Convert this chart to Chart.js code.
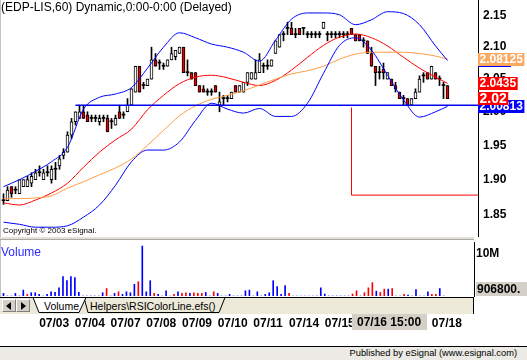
<!DOCTYPE html>
<html><head><meta charset="utf-8">
<script src="https://cdn.jsdelivr.net/npm/chart.js@4.4.1/dist/chart.umd.min.js"></script>
<style>
html,body{margin:0;padding:0;background:#fff;width:527px;height:360px;overflow:hidden;font-family:Arial,"Liberation Sans",sans-serif;}
#wrap{position:relative;width:527px;height:360px;}
canvas{position:absolute;}
.abs{position:absolute;white-space:nowrap;}
</style></head><body><div id="wrap">
<canvas id="priceCanvas" width="527" height="237" style="left:0;top:0;width:527px;height:237px"></canvas>
<canvas id="volCanvas" width="527" height="100" style="left:0;top:240px;width:527px;height:100px"></canvas>

<div class="abs" style="left:1px;top:0;font-size:12px;line-height:14px;color:#000">(EDP-LIS,60) Dynamic,0:00-0:00 (Delayed)</div>
<div class="abs" style="left:3px;top:226px;font-size:8px;line-height:10px;color:#000">Copyright &copy; 2003 eSignal.</div>
<div class="abs" style="left:0;top:0;width:1px;height:297px;background:#c4c4c4"></div>
<div class="abs" style="left:0;top:237px;width:474px;height:3px;background:#e4e0d4;border-bottom:1px solid #a8a8a8;box-sizing:border-box"></div>
<div class="abs" style="left:1px;top:245px;font-size:12px;line-height:14px;color:#2b2bff">Volume</div>

<div class="abs" style="left:0;top:297px;width:474px;height:17px;background:#ece9d8;border-top:1px solid #000;border-right:1px solid #000;box-sizing:border-box"></div>
<div class="abs" style="left:2px;top:299px;width:14px;height:13px;background:#d4d0c8;border:1px solid;border-color:#fff #808080 #808080 #fff;box-sizing:border-box">
  <div style="position:absolute;left:3px;top:2px;width:0;height:0;border-top:4px solid transparent;border-bottom:4px solid transparent;border-right:5px solid #000"></div></div>
<div class="abs" style="left:16px;top:299px;width:14px;height:13px;background:#d4d0c8;border:1px solid;border-color:#fff #808080 #808080 #fff;box-sizing:border-box">
  <div style="position:absolute;left:4px;top:2px;width:0;height:0;border-top:4px solid transparent;border-bottom:4px solid transparent;border-left:5px solid #000"></div></div>
<svg class="abs" style="left:0;top:297px" width="474" height="17">
  <polygon points="84,0.5 88,15.5 219,15.5 225,0.5" fill="#ece9d8" stroke="#000" stroke-width="1"/>
  <polygon points="33,0.5 39,15.5 79,15.5 86,0.5" fill="#fff" stroke="#000" stroke-width="1"/>
  <line x1="0" y1="0.5" x2="474" y2="0.5" stroke="#000" stroke-width="1"/>
</svg>
<div class="abs" style="left:44px;top:299px;font-size:10.5px;line-height:14px;color:#000">Volume</div>
<div class="abs" style="left:90px;top:299px;font-size:10.5px;line-height:14px;color:#000">Helpers\RSIColorLine.efs()</div>

<div class="abs" style="left:0;top:346px;width:527px;height:14px;background:#ebeae4;border-top:1px solid #000;box-sizing:border-box"></div>
<div class="abs" style="right:10px;top:347px;font-size:9.3px;line-height:13px;color:#000">Published by eSignal (www.esignal.com)</div>
</div>
<script>
// ---------- data ----------
const dayLabels = ['07/03','07/04','07/07','07/08','07/09','07/10','07/11','07/14','07/15','07/16','07/17','07/18'];
const dayStartIdx = [9,18,27,36,45,54,63,72,81,90,99,108];
const priceTicks = [1.85,1.90,1.95,2.00,2.05,2.10,2.15];

const opens = [1.87,1.87,1.89,1.885,1.88,1.89,1.89,1.895,1.90,1.91,
 1.90,1.91,1.90,1.915,1.92,1.935,1.94,1.965,1.985,1.99,
 2.00,1.995,1.99,1.99,1.985,1.99,1.99,1.985,1.98,2.00,
 1.995,2.00,2.01,2.03,2.07,2.04,2.04,2.05,2.08,2.075,
 2.07,2.07,2.08,2.085,2.09,2.10,2.06,2.06,2.06,2.04,
 2.035,2.03,2.03,2.04,2.01,2.02,2.02,2.02,2.04,2.03,
 2.03,2.045,2.05,2.05,2.06,2.07,2.07,2.07,2.09,2.10,
 2.12,2.13,2.13,2.12,2.13,2.13,2.12,2.12,2.12,2.12,
 2.13,2.12,2.12,2.12,2.12,2.12,2.12,2.13,2.12,2.12,
 2.11,2.11,2.09,2.07,2.06,2.065,2.05,2.05,2.04,2.03,
 2.02,2.02,2.01,2.02,2.03,2.055,2.06,2.05,2.06,2.05,
 2.04,2.04];
const highs = [1.88,1.89,1.89,1.89,1.90,1.90,1.905,1.91,1.915,1.92,
 1.915,1.92,1.92,1.925,1.935,1.945,1.97,1.99,2.00,2.01,
 2.01,2.00,1.995,1.995,1.995,1.995,1.995,1.99,1.995,2.01,
 2.00,2.02,2.035,2.07,2.07,2.045,2.05,2.10,2.09,2.08,
 2.075,2.08,2.10,2.095,2.10,2.10,2.08,2.06,2.06,2.04,
 2.04,2.035,2.035,2.04,2.03,2.025,2.025,2.03,2.04,2.04,
 2.045,2.06,2.06,2.08,2.09,2.075,2.08,2.08,2.11,2.12,
 2.125,2.14,2.14,2.13,2.13,2.13,2.125,2.125,2.125,2.125,
 2.14,2.125,2.125,2.125,2.125,2.125,2.125,2.13,2.12,2.12,
 2.115,2.11,2.10,2.07,2.07,2.075,2.06,2.05,2.045,2.03,
 2.025,2.02,2.02,2.035,2.055,2.06,2.06,2.07,2.06,2.055,
 2.045,2.04];
const lows = [1.865,1.87,1.875,1.88,1.88,1.89,1.89,1.89,1.90,1.905,
 1.90,1.905,1.895,1.90,1.915,1.93,1.94,1.96,1.98,1.99,
 1.99,1.985,1.985,1.985,1.98,1.985,1.97,1.975,1.98,1.99,
 1.99,2.00,2.01,2.03,2.03,2.035,2.04,2.05,2.07,2.065,
 2.065,2.07,2.08,2.08,2.09,2.06,2.055,2.05,2.04,2.03,
 2.03,2.025,2.025,2.03,2.00,2.01,2.015,2.02,2.03,2.03,
 2.03,2.04,2.05,2.05,2.06,2.06,2.065,2.07,2.09,2.10,
 2.11,2.12,2.12,2.115,2.12,2.12,2.115,2.115,2.115,2.115,
 2.13,2.11,2.115,2.115,2.115,2.115,2.115,2.12,2.11,2.11,
 2.10,2.09,2.07,2.04,2.05,2.05,2.05,2.04,2.03,2.02,
 2.01,2.01,2.01,2.02,2.03,2.045,2.05,2.05,2.05,2.04,
 2.02,2.02];
const closes = [1.87,1.885,1.88,1.885,1.90,1.90,1.90,1.905,1.91,1.91,
 1.91,1.91,1.915,1.915,1.93,1.94,1.965,1.985,2.00,2.00,
 1.99,1.985,1.99,1.99,1.99,1.99,1.97,1.985,1.99,1.99,
 1.995,2.01,2.035,2.07,2.03,2.04,2.05,2.08,2.07,2.075,
 2.07,2.08,2.09,2.095,2.10,2.06,2.06,2.05,2.04,2.03,
 2.03,2.03,2.03,2.03,2.015,2.02,2.02,2.03,2.03,2.04,
 2.045,2.06,2.06,2.06,2.08,2.07,2.07,2.08,2.11,2.12,
 2.12,2.13,2.12,2.12,2.12,2.13,2.12,2.12,2.12,2.12,
 2.14,2.12,2.12,2.12,2.12,2.12,2.12,2.12,2.11,2.11,
 2.11,2.09,2.07,2.06,2.06,2.06,2.06,2.04,2.035,2.02,
 2.02,2.01,2.02,2.03,2.05,2.055,2.05,2.07,2.05,2.05,
 2.04,2.02];

const volumes = [0.62,0,0,0.62,0,1.40,0.39,0.78,0.78,0.39,
 0,0.39,1.0,0.85,1.94,4.6,3.65,4.6,4.36,0.85,
 0,0,0,0,0,0.78,1.78,0,0.62,1.0,
 0.39,1.0,0.78,2.77,3.4,11.9,1.0,3.65,0.62,0.39,
 0,1.24,0,0.39,1.0,0.62,0.78,0.62,0.78,0.62,
 0.62,0.85,0,1.0,0.62,0,0,0.39,0,0,
 0,1.24,1.4,0,1.0,0,0.39,0.78,3.65,2.22,
 0.39,2.46,0.62,0,0,0,0,0,0,0,
 1.94,0.47,0,0,0,0,0,0,0.47,1.24,
 0,0.78,1.94,3.17,1.16,0.85,1.63,1.63,1.78,0,
 0,0.39,0.23,0,1.55,0,0,1.0,0.39,0.39,
 1.78,0];
const volumeDir = ['u','u','u','u','u','u','d','u','u','u',
 'u','u','u','u','u','u','u','u','u','u',
 'u','u','u','u','u','u','d','u','u','d',
 'u','u','u','u','d','u','u','u','d','u',
 'u','u','u','d','u','d','d','u','d','d',
 'd','u','u','d','u','u','u','u','u','u',
 'u','u','u','u','u','u','u','u','u','u',
 'u','u','d','u','u','u','u','u','u','u',
 'u','u','u','u','u','u','u','u','d','d',
 'u','d','d','d','u','d','d','u','d','u',
 'u','d','u','u','u','u','u','u','d','d',
 'u','u'];
const lastVolumeLabel = 906800;

const indIdx = [0,4,8,12,16,20,24,28,32,36,40,44,48,52,56,60,64,68,72,76,80,84,88,92,96,100,104,108,111];
const bbUpper = [1.89,1.90,1.912,1.926,1.947,2.004,2.022,2.027,2.037,2.067,2.10,2.123,2.115,2.105,2.10,2.092,2.078,2.111,2.145,2.155,2.155,2.152,2.136,2.144,2.157,2.154,2.136,2.102,2.079];
const bbLower = [1.84,1.837,1.833,1.833,1.835,1.847,1.864,1.892,1.926,1.943,1.943,1.955,1.987,2.013,2.004,1.998,2.005,1.993,1.993,2.013,2.059,2.103,2.115,2.095,2.056,2.018,1.992,2.00,2.00813];
const maRed = [1.867,1.864,1.871,1.881,1.895,1.918,1.94,1.958,1.974,2.003,2.025,2.043,2.053,2.056,2.052,2.045,2.04,2.048,2.064,2.084,2.103,2.116,2.121,2.115,2.102,2.084,2.067,2.053,2.0435];
const maOrange = [1.873,1.873,1.874,1.877,1.888,1.897,1.907,1.917,1.93,1.95,1.972,1.994,2.009,2.019,2.025,2.032,2.041,2.05,2.058,2.063,2.07,2.081,2.089,2.092,2.092,2.092,2.09,2.086,2.08125];

const supportStartIdx = 18, supportLevel = 2.01;
const cursorIdx = 87, cursorTop = 2.006, cursorLevel = 1.878;
const cursorLabel = '07/16 15:00';

// ---------- view settings ----------
const FONT = 'Arial, "Liberation Sans", sans-serif';
const xMin = -0.875, xMax = 118.625;
const yMin = 1.8195, yMax = 2.1762;
const volMax = 12.86;

const barIdx = closes.map((_, i) => i);
const last = a => a[a.length - 1];
const bodyColor = barIdx.map(i => closes[i] > opens[i] ? '#ffffff' : (closes[i] < opens[i] ? '#e00000' : '#000000'));
const bodyBorder = barIdx.map(i => closes[i] === opens[i] ? 0 : 1);
const linePts = arr => indIdx.map((x, i) => ({x, y: arr[i]}));
const lineDs = (arr, color) => ({type:'line', data: linePts(arr), borderColor: color, borderWidth: 1, pointRadius: 0, cubicInterpolationMode: 'monotone', order: -1});

const valueLabelPlugin = {
  id: 'valueLabels',
  afterDraw(chart) {
    const {ctx, chartArea, scales: {y}} = chart;
    const items = [
      {v: last(bbUpper), bg: '#0000ff', f: 'bold 12px ' + FONT},
      {v: last(maOrange), bg: '#ffa860', f: 'bold 12px ' + FONT},
      {v: last(maRed), bg: '#ff0000', f: 'bold 12px ' + FONT},
      {v: last(bbLower), bg: '#0000ff', f: 'bold 12px ' + FONT},
      {v: last(closes), bg: '#ff0000', f: 'bold 14px ' + FONT}
    ];
    ctx.save();
    ctx.textBaseline = 'middle'; ctx.textAlign = 'left';
    items.forEach(it => {
      const cy = y.getPixelForValue(it.v);
      const t = String(it.v);
      ctx.font = it.f;
      const w = ctx.measureText(t).width + 3;
      ctx.fillStyle = it.bg;
      ctx.fillRect(chartArea.right, Math.round(cy - 6.5), w, 13);
      ctx.fillStyle = '#ffffff';
      ctx.fillText(t, chartArea.right + 1.5, cy + 0.5);
    });
    ctx.restore();
  }
};

const priceChart = new Chart(document.getElementById('priceCanvas'), {
  type: 'bar',
  data: { datasets: [
    lineDs(bbUpper, '#0000ff'),
    lineDs(bbLower, '#0000ff'),
    lineDs(maOrange, '#ff9c45'),
    lineDs(maRed, '#ff0000'),
    {type:'line', data:[{x:supportStartIdx, y:supportLevel},{x:xMax, y:supportLevel}], borderColor:'#0000ee', borderWidth:1.5, pointRadius:0, tension:0, order:-2},
    {type:'line', data:[{x:cursorIdx, y:cursorTop},{x:cursorIdx, y:cursorLevel},{x:xMax, y:cursorLevel}], borderColor:'#ff0000', borderWidth:1, pointRadius:0, tension:0, order:-2},
    {data: barIdx.map(i => ({x:i, y:[lows[i], highs[i]]})), backgroundColor:'#000', borderWidth:0, barThickness:1, grouped:false, minBarLength:1, order:2},
    {data: barIdx.map(i => ({x:i, y:[Math.min(opens[i], closes[i]), Math.max(opens[i], closes[i])]})), backgroundColor: bodyColor, borderColor:'#000', borderWidth: bodyBorder, borderSkipped:false, barThickness:3, grouped:false, minBarLength:1, order:1}
  ]},
  options: {
    responsive:false, animation:false, events:[],
    layout:{padding:0},
    plugins:{legend:{display:false}, tooltip:{enabled:false}},
    scales:{
      x:{type:'linear', display:false, min:xMin, max:xMax, offset:false, grid:{display:false, offset:false}},
      y:{type:'logarithmic', position:'right', min:yMin, max:yMax,
        afterBuildTicks: s => { s.ticks = priceTicks.map(v => ({value:v})); },
        ticks:{autoSkip:false, padding:5, color:'#000', font:{family:FONT, size:12, weight:'bold'}, callback: v => Number(v).toFixed(2)},
        grid:{display:false, drawTicks:false},
        border:{display:true, color:'#000', width:1},
        afterFit: s => { s.width = 49; s.paddingTop = 0; s.paddingBottom = 0; }
      }
    }
  },
  plugins:[valueLabelPlugin]
});

const volLabelPlugin = {
  id: 'volLabels',
  afterDraw(chart) {
    const {ctx, chartArea, scales: {x, y}} = chart;
    ctx.save();
    ctx.font = 'bold 12px ' + FONT; ctx.textBaseline = 'middle'; ctx.textAlign = 'left';
    const cy = Math.min(y.getPixelForValue(lastVolumeLabel / 1e6), chartArea.bottom - 7);
    ctx.fillStyle = '#d4d0c8';
    ctx.fillRect(chartArea.right + 2, Math.round(cy - 7), chart.width - chartArea.right - 2, 14);
    ctx.fillStyle = '#000';
    ctx.fillText(lastVolumeLabel + '.', chartArea.right + 3, cy + 0.5);
    // cursor time label
    const px = Math.round(priceChart.scales.x.getPixelForValue(cursorIdx));
    const top = x.top + 18;
    ctx.fillStyle = '#d4d0c8';
    ctx.fillRect(px, top, 75, 16);
    ctx.fillStyle = '#000';
    ctx.fillText(cursorLabel, px + 5, top + 9);
    ctx.restore();
  }
};

new Chart(document.getElementById('volCanvas'), {
  type: 'bar',
  data: { datasets: [
    {data: barIdx.map(i => ({x:i, y:volumes[i]})), backgroundColor: volumeDir.map(d => d === 'd' ? '#ff0000' : '#0000ff'), borderWidth:0, barThickness:1, grouped:false}
  ]},
  options: {
    responsive:false, animation:false, events:[],
    layout:{padding:{top:2, left:0, right:0, bottom:0}},
    plugins:{legend:{display:false}, tooltip:{enabled:false}},
    scales:{
      x:{type:'linear', min:xMin, max:xMax, offset:false,
        grid:{display:false, drawTicks:false, offset:false}, border:{display:false},
        afterBuildTicks: s => { s.ticks = dayStartIdx.map(v => ({value:v})); },
        ticks:{align:'start', autoSkip:false, maxRotation:0, minRotation:0, padding:20, color:'#000', font:{family:FONT, size:12, weight:'bold'}, callback: (v, i) => dayLabels[i]},
        afterFit: s => { s.height = 44; s.paddingLeft = 0; s.paddingRight = 0; }
      },
      y:{position:'right', min:0, max:volMax,
        afterBuildTicks: s => { s.ticks = [{value:10}]; },
        ticks:{autoSkip:false, padding:2, color:'#000', font:{family:FONT, size:12, weight:'bold'}, callback: v => v + 'M'},
        grid:{display:false, drawTicks:false},
        border:{display:true, color:'#000', width:1},
        afterFit: s => { s.width = 53; s.paddingTop = 0; s.paddingBottom = 0; }
      }
    }
  },
  plugins:[volLabelPlugin]
});
</script>
</body></html>
